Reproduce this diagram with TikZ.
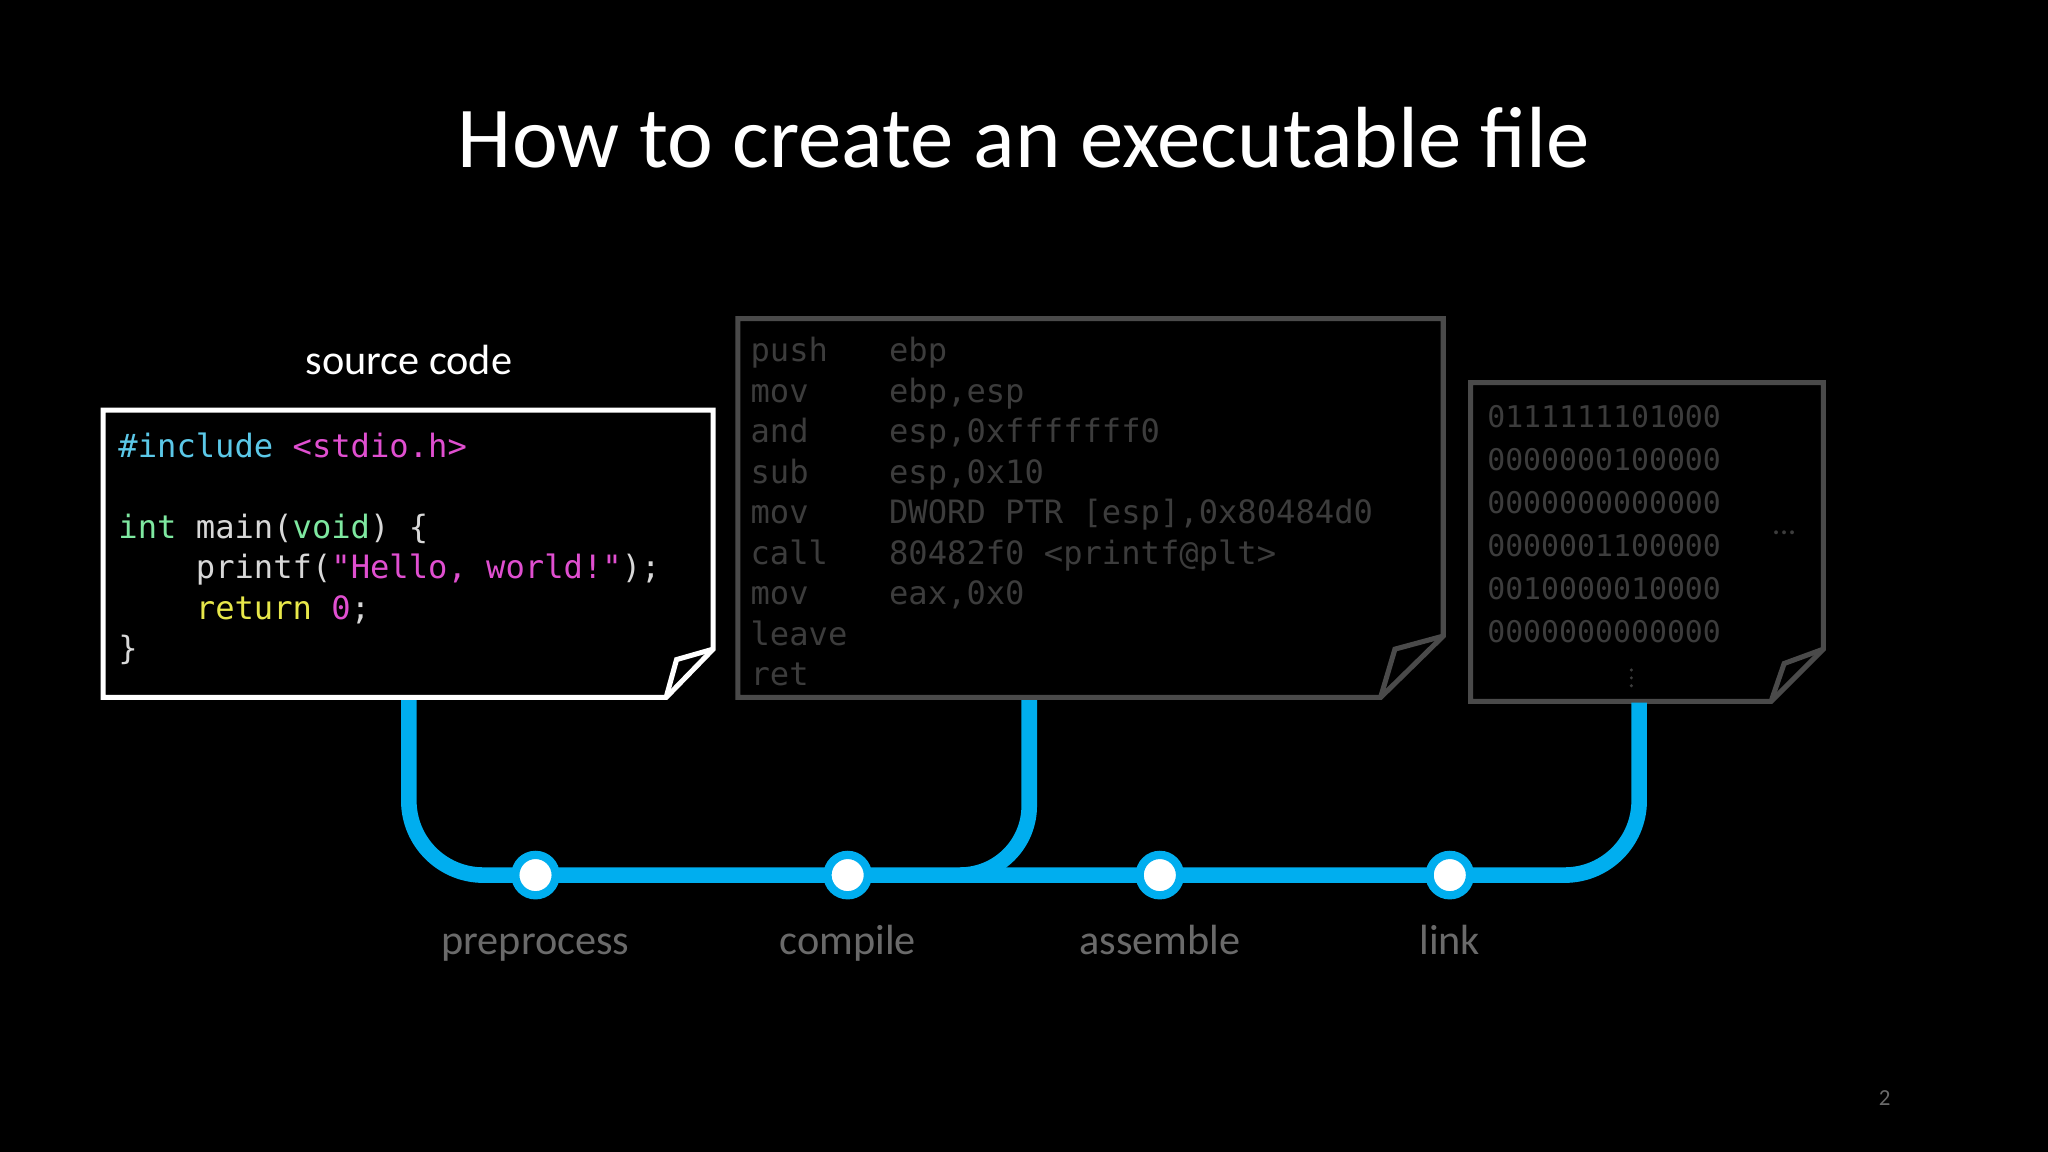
\documentclass[tikz,border=0pt]{standalone}
\usepackage{fontspec}
\setmainfont{Carlito}
\setmonofont{DejaVu Sans Mono}
\begin{document}
\begin{tikzpicture}[x=0.01cm,y=-0.01cm,
  code/.style={anchor=base west,inner sep=0,font=\ttfamily\fontsize{7}{8}\selectfont},
  asm/.style={anchor=base west,inner sep=0,text=asmgray,font=\ttfamily\fontsize{7}{8}\selectfont},
  bin/.style={anchor=base west,inner sep=0,text=asmgray,font=\ttfamily\fontsize{6.5}{8}\selectfont},
  lbl/.style={anchor=base,inner sep=0,text=lblgray,font=\fontsize{9.2}{10}\selectfont},
  stop/.style={circle,fill=white,draw=pipe,line width=1.8pt,minimum size=8.8pt,inner sep=0},
  pipeline/.style={draw=pipe,line width=3.4pt}]
\definecolor{pipe}{HTML}{00AEEF}
\definecolor{asmgray}{HTML}{3C3C3C}
\definecolor{boxgray}{HTML}{4A4A4A}
\definecolor{lblgray}{HTML}{6A6A6A}
\definecolor{ccyan}{HTML}{5BC8E8}
\definecolor{cmag}{HTML}{E04FD0}
\definecolor{cgreen}{HTML}{7EE8A0}
\definecolor{cyel}{HTML}{E8E84A}
\definecolor{cwhite}{HTML}{D8D8D8}
\fill[black] (0,0) rectangle (1568,882);
\useasboundingbox (0,0) rectangle (1568,882);
\node[text=white,font=\fontsize{18.9}{22}\selectfont,anchor=base] (title) at (784,128) {How to create an executable file};
% source box
\draw[white,line width=1.1pt,line join=miter] (79,314) -- (546,314) -- (546,497) -- (510,534) -- (79,534) -- cycle;
\draw[white,line width=1.1pt,line join=miter] (510,534) -- (518,505) -- (546,497);
\node[text=white,anchor=base,font=\fontsize{9.2}{10}\selectfont] (src) at (313,287) {source code};
\node[code] (c1) at (90,350) {\textcolor{ccyan}{\#include} \textcolor{cmag}{<stdio.h>}};
\node[code] (c2) at (90,412) {\textcolor{cgreen}{int} \textcolor{cwhite}{main(}\textcolor{cgreen}{void}\textcolor{cwhite}{) \{}};
\node[code] (c3) at (90,443) {\textcolor{cwhite}{\ \ \ \ printf(}\textcolor{cmag}{"Hello, world!"}\textcolor{cwhite}{);}};
\node[code] (c4) at (90,474) {\ \ \ \ \textcolor{cyel}{return} \textcolor{cmag}{0}\textcolor{cwhite}{;}};
\node[code,text=cwhite] (c5) at (90,505) {\}};
% asm box
\draw[boxgray,line width=1.1pt,line join=miter] (565,244) -- (1105,244) -- (1105,487) -- (1057,534) -- (565,534) -- cycle;
\draw[boxgray,line width=1.1pt,line join=miter] (1057,534) -- (1068,497) -- (1105,487);
\foreach \a/\b [count=\i] in {push/ebp,mov/{ebp,esp},and/{esp,0xfffffff0},sub/{esp,0x10},mov/{DWORD PTR [esp],0x80484d0},call/{80482f0 <printf@plt>},mov/{eax,0x0},leave/{},ret/{}}{
  \node[asm] (a\i) at (574,{246+31*\i}) {\a};
  \node[asm] (b\i) at (680,{246+31*\i}) {\b};
}
% binary box
\draw[boxgray,line width=1.1pt,line join=miter] (1126,293) -- (1396,293) -- (1396,497) -- (1356,537) -- (1126,537) -- cycle;
\draw[boxgray,line width=1.1pt,line join=miter] (1356,537) -- (1366,508) -- (1396,497);
\foreach \t [count=\i] in {0111111101000,0000000100000,0000000000000,0000001100000,0010000010000,0000000000000}{
  \node[bin] (n\i) at (1138,{294+33*\i}) {\t};
}
\node[bin,font=\fontsize{7}{8}\selectfont] (hd) at (1356,409) {...};
\foreach \yy in {513,519,525} \fill[asmgray] (1249,\yy) circle (1.3);
% pipeline
\coordinate (s0) at (313,536);
\coordinate (s1) at (788,536);
\coordinate (s2) at (1255,538);
\coordinate (m1) at (735,670);
\draw[pipeline,rounded corners=0.57cm] (s0) -- (313,670) -- (1255,670) -- (s2);
\draw[pipeline,rounded corners=0.53cm] (s1) -- (788,670) -- (m1);
\foreach \x/\n/\t in {410/p/preprocess,649/c/compile,888/a/assemble,1110/l/link}{
  \node[stop] (\n) at (\x,670) {};
  \node[lbl] (t\n) at (\x,731) {\t};
}
\node[text=lblgray,font=\fontsize{5}{6}\selectfont] (pg) at (1443,841) {2};
\end{tikzpicture}
\end{document}
